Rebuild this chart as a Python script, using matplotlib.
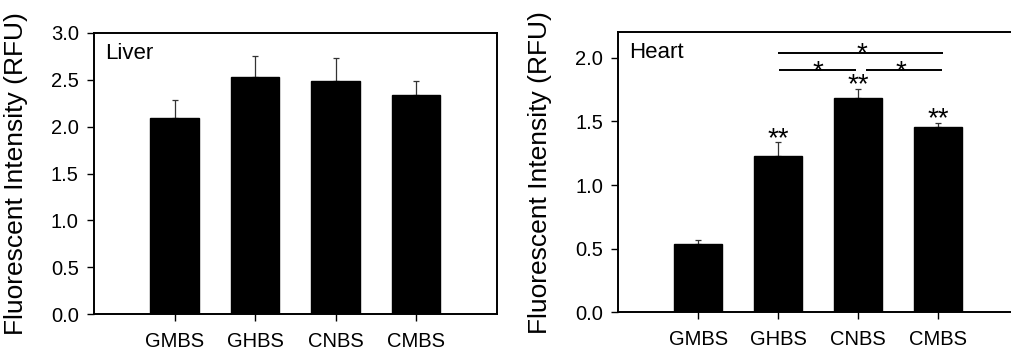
import matplotlib.pyplot as plt
import numpy as np

plt.rcParams['font.family'] = ['Liberation Sans', 'DejaVu Sans']

groups = ['GMBS', 'GHBS', 'CNBS', 'CMBS']

# Liver panel
liver_mean = [2.09, 2.525, 2.49, 2.34]
liver_err = [0.20, 0.23, 0.24, 0.15]

# Heart panel
heart_mean = [0.535, 1.228, 1.686, 1.453]
heart_err = [0.035, 0.107, 0.071, 0.037]
heart_marks = ['', '**', '**', '**']

# significance brackets: (x start, x end, y level, label, label x)
heart_brackets = [
    (2.0, 4.06, 2.04, '*', 3.05),
    (2.01, 2.97, 1.90, '*', 2.49),
    (3.10, 4.05, 1.90, '*', 3.53),
]

W, H = 1011, 356
fig = plt.figure(figsize=(W / 100, H / 100), dpi=100)


def style_axis(ax, ymax, ystep, label):
    ax.set_xlim(0, 5)
    ax.set_ylim(0, ymax)
    ax.set_yticks(np.arange(0, ymax + 0.01, ystep))
    ax.yaxis.set_major_formatter(plt.FormatStrFormatter('%.1f'))
    ax.set_xticks(range(1, len(groups) + 1))
    ax.set_xticklabels(groups)
    ax.tick_params(axis='y', direction='out', length=5, width=1, pad=6, labelsize=14.5)
    ax.tick_params(axis='x', direction='out', length=5, width=1, pad=8, labelsize=14.5)
    for s in ax.spines.values():
        s.set_linewidth(1.4)
    ax.set_ylabel('Fluorescent Intensity (RFU)', fontsize=19)
    ax.text(0.027, 0.927, label, transform=ax.transAxes, fontsize=16,
            ha='left', va='center')


def draw_bars(ax, means, errs):
    x = np.arange(1, len(means) + 1)
    ax.bar(x, means, width=0.6, color='black', edgecolor='black', zorder=2)
    ax.errorbar(x, means, yerr=[np.zeros(len(errs)), errs], fmt='none',
                ecolor='#333333', elinewidth=0.9, capsize=2.5, capthick=0.9, zorder=1)


ax1 = fig.add_axes([94 / W, 42 / H, 402.7 / W, 281 / H])
draw_bars(ax1, liver_mean, liver_err)
style_axis(ax1, 3.0, 0.5, 'Liver')
ax1.yaxis.set_label_coords(-0.164, 0.5)

ax2 = fig.add_axes([618.3 / W, 43.7 / H, 400 / W, 280 / H])
draw_bars(ax2, heart_mean, heart_err)
style_axis(ax2, 2.2, 0.5, 'Heart')
ax2.yaxis.set_label_coords(-0.1665, 0.5)
ax2.spines['right'].set_visible(False)

for i, (m, e, t) in enumerate(zip(heart_mean, heart_err, heart_marks)):
    if t:
        ax2.annotate(t, (i + 1, m + e), xytext=(0, -2.5), textcoords='offset points',
                     ha='center', va='baseline', fontsize=20)

for x0, x1, y, t, tx in heart_brackets:
    ax2.plot([x0, x1], [y, y], color='black', lw=1.4, solid_capstyle='butt')
    ax2.annotate(t, (tx, y), xytext=(0, -6), textcoords='offset points',
                 ha='center', va='baseline', fontsize=20)

fig.savefig('out.png', dpi=100)
